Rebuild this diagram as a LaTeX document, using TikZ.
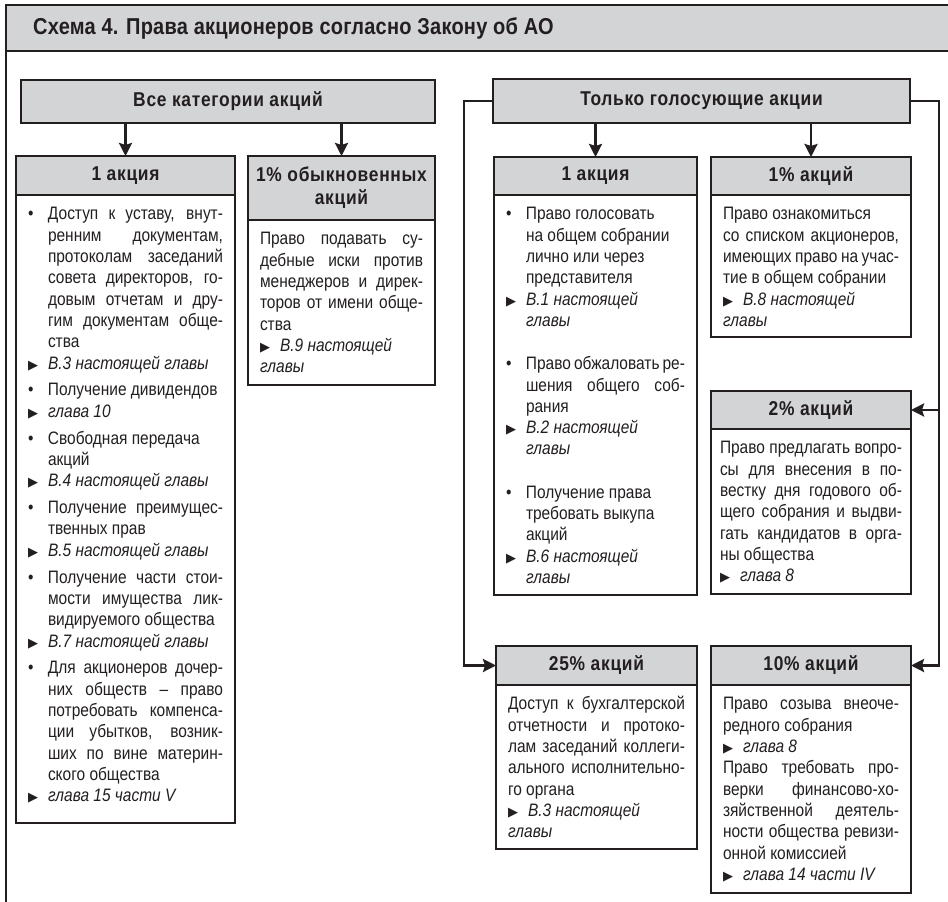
\documentclass[tikz,border=0pt]{standalone}
\usepackage{fontspec}
\setmainfont{Liberation Sans}[FakeStretch=0.86]
\newfontfamily\hdrfamily{Liberation Sans}[FakeStretch=0.87,LetterSpace=3.5]
\newfontfamily\titlefamily{Liberation Sans}[FakeStretch=0.87,LetterSpace=1]
\newfontfamily\symfont{DejaVu Sans}
\usetikzlibrary{positioning,arrows.meta}
\definecolor{ink}{HTML}{231F20}
\definecolor{boxgray}{HTML}{D3D4D6}
% text of the cards
\newcommand\bodyfont{\fontsize{18}{21.3}\selectfont\spaceskip=4.3pt plus 6pt minus 2.2pt\hyphenpenalty=10000\exhyphenpenalty=10000\tolerance=10000}
\newcommand\hdrfont{\hdrfamily\bfseries\fontsize{20}{23}\selectfont}
\newcommand\refmark{\makebox[20pt][l]{\symfont\fontsize{13}{13}\selectfont ▶}}
\newcommand\itm{\par\noindent\hangindent=20pt\hangafter=1\strut\makebox[20pt][l]{•}}
\newcommand\refl[1]{\par\noindent\hangindent=20pt\hangafter=1\strut\refmark\textit{#1}}
\newcommand\refp[1]{\par\noindent\strut\refmark\textit{#1}}
\newcommand\gap[1]{\par\vspace{#1}}
\newcommand\cardtext[3]{\parbox[t][#1][t]{#2}{\bodyfont\vskip10pt #3}}
\begin{document}
\begin{tikzpicture}[x=1pt,y=-1pt,>={Stealth[length=13pt,width=13pt,inset=2pt]},line join=miter,
	hdr/.style={draw=ink,line width=2.8pt,fill=boxgray,outer sep=0pt,inner sep=0pt,anchor=north west,align=center,font=\hdrfont,text=ink},
	card/.style={draw=ink,line width=2.8pt,fill=white,outer sep=0pt,inner xsep=12pt,inner ysep=0pt,text=ink},
	link/.style={draw=ink,line width=2.5pt}]
	\useasboundingbox (0,0) rectangle (948,902);
	% frame and title
	\fill[boxgray] (6,5) rectangle (948,51);
	\draw[ink,line width=2.8pt] (948,5) -- (6,5) -- (6,905);
	\draw[ink,line width=2.8pt] (6,51) -- (948,51);
	\node[anchor=west,inner sep=0pt,text=ink,font=\titlefamily\bfseries\fontsize{23}{26}\selectfont] (title) at (33,28) {Схема 4. Права акционеров согласно Закону об АО};
	% all categories
	\node[hdr,minimum width=414,minimum height=43] (hdrAll) at (21,80) {Все категории акций};
	\node[hdr,minimum width=219,minimum height=39] (hdrOne) at (16,156) {1 акция};
	\node[hdr,minimum width=187,minimum height=64] (hdrCommon) at (248,156) {1\% обыкновенных\\акций};
	\node[card,below right=0pt of hdrOne.south west] (cardOne) {\cardtext{628pt}{195pt}{%
		\itm Доступ к уставу, внут-\linebreak ренним документам,\linebreak протоколам заседаний\linebreak совета директоров, го-\linebreak довым отчетам и дру-\linebreak гим документам обще-\linebreak ства
		\refl{В.3 настоящей главы}
		\gap{5.6pt}
		\itm Получение дивидендов
		\refl{глава 10}
		\gap{5.6pt}
		\itm Свободная передача\newline акций
		\refl{В.4 настоящей главы}
		\gap{5.6pt}
		\itm Получение преимущес-\linebreak твенных прав
		\refl{В.5 настоящей главы}
		\gap{5.6pt}
		\itm Получение части стои-\linebreak мости имущества лик-\linebreak видируемого общества
		\refl{В.7 настоящей главы}
		\gap{5.6pt}
		\itm Для акционеров дочер-\linebreak них обществ – право\linebreak потребовать компенса-\linebreak ции убытков, возник-\linebreak ших по вине материн-\linebreak ского общества
		\refl{глава 15 части V}}};
	\node[card,below right=0pt of hdrCommon.south west] (cardCommon) {\cardtext{165pt}{163pt}{%
		\strut Право подавать су-\linebreak дебные иски против\linebreak менеджеров и дирек-\linebreak торов от имени обще-\linebreak ства
		\refp{В.9 настоящей\newline главы}}};
	% voting shares
	\node[hdr,minimum width=417,minimum height=44] (hdrVote) at (493,79) {Только голосующие акции};
	\node[hdr,minimum width=203,minimum height=38] (hdrVoteOne) at (494,157) {1 акция};
	\node[hdr,minimum width=200,minimum height=38] (hdrOnePct) at (711,157) {1\% акций};
	\node[hdr,minimum width=200,minimum height=38] (hdrTwoPct) at (711,391) {2\% акций};
	\node[hdr,minimum width=201,minimum height=39] (hdrQuarter) at (496,646) {25\% акций};
	\node[hdr,minimum width=200,minimum height=39] (hdrTen) at (711,646) {10\% акций};
	\node[card,below right=0pt of hdrVoteOne.south west] (cardVoteOne) {\cardtext{400pt}{179pt}{%
		\itm Право голосовать\newline на общем собрании\newline лично или через\newline представителя
		\refl{В.1 настоящей\newline главы}
		\gap{22pt}
		\itm Право обжаловать ре-\linebreak шения общего соб-\linebreak рания
		\refl{В.2 настоящей\newline главы}
		\gap{22pt}
		\itm Получение права\newline требовать выкупа\newline акций
		\refl{В.6 настоящей\newline главы}}};
	\node[card,below right=0pt of hdrOnePct.south west] (cardOnePct) {\cardtext{142pt}{176pt}{%
		\strut Право ознакомиться\newline со списком акционеров,\linebreak имеющих право на учас-\linebreak тие в общем собрании
		\refp{В.8 настоящей\newline главы}}};
	\node[card,inner xsep=9pt,below right=0pt of hdrTwoPct.south west] (cardTwoPct) {\cardtext{165pt}{182pt}{%
		\strut Право предлагать вопро-\linebreak сы для внесения в по-\linebreak вестку дня годового об-\linebreak щего собрания и выдви-\linebreak гать кандидатов в орга-\linebreak ны общества
		\refp{глава 8}}};
	\node[card,below right=0pt of hdrQuarter.south west] (cardQuarter) {\cardtext{164pt}{177pt}{%
		\strut Доступ к бухгалтерской\linebreak отчетности и протоко-\linebreak лам заседаний коллеги-\linebreak ального исполнительно-\linebreak го органа
		\refp{В.3 настоящей\newline главы}}};
	\node[card,below right=0pt of hdrTen.south west] (cardTen) {\cardtext{208pt}{176pt}{%
		\strut Право созыва внеоче-\linebreak редного собрания
		\refp{глава 8}
		\par\strut Право требовать про-\linebreak верки финансово-хо-\linebreak зяйственной деятель-\linebreak ности общества ревизи-\linebreak онной комиссией
		\refp{глава 14 части IV}}};
	% connectors
	\draw[link,->] (hdrOne.north |- hdrAll.south) -- (hdrOne.north);
	\draw[link,->] (hdrCommon.north |- hdrAll.south) -- (hdrCommon.north);
	\draw[link,->] (hdrVoteOne.north |- hdrVote.south) -- (hdrVoteOne.north);
	\draw[link,->] (hdrOnePct.north |- hdrVote.south) -- (hdrOnePct.north);
	\coordinate (busL) at (464,101);
	\coordinate (busR) at (939,101);
	\draw[link,->] (hdrVote.west) -- (busL) |- (hdrQuarter.west);
	\draw[link,->] (hdrVote.east) -- (busR) |- (hdrTen.east);
	\draw[link,->] (busR |- hdrTwoPct.east) -- (hdrTwoPct.east);
\end{tikzpicture}
\end{document}
